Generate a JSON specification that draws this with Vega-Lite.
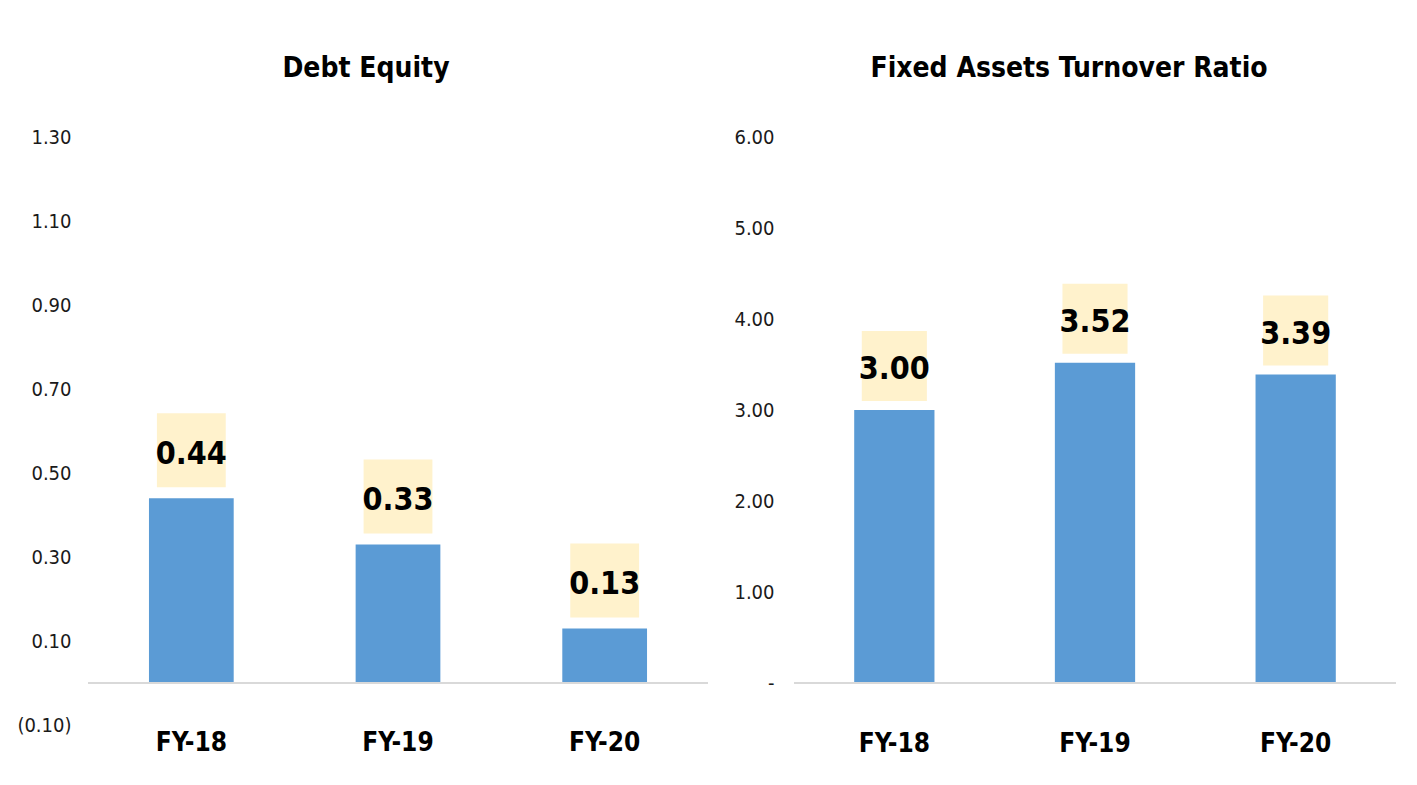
{
  "$schema": "https://vega.github.io/schema/vega-lite/v6.json",
  "background": "white",
  "padding": {"left": 16, "top": 55, "right": 20, "bottom": 10},
  "autosize": {"type": "pad"},
  "spacing": 24,
  "config": {
    "view": {"stroke": null},
    "font": "DejaVu Sans Condensed, Liberation Sans",
    "title": {"font": "DejaVu Sans Condensed, Liberation Sans", "fontSize": 28, "fontWeight": "bold", "color": "#000000", "offset": 44}
  },
  "datasets": {
    "de": [
      {"year": "FY-18", "value": 0.44},
      {"year": "FY-19", "value": 0.33},
      {"year": "FY-20", "value": 0.13}
    ],
    "fa": [
      {"year": "FY-18", "value": 3.00},
      {"year": "FY-19", "value": 3.52},
      {"year": "FY-20", "value": 3.39}
    ]
  },
  "hconcat": [
    {
      "width": 620,
      "height": 588,
      "title": {"text": "Debt Equity", "dx": -32},
      "data": {"name": "de"},
      "encoding": {
        "x": {"field": "year", "type": "nominal", "sort": null,
          "scale": {"paddingInner": 0.59, "paddingOuter": 0.295},
          "axis": {"title": null, "domain": false, "ticks": false, "labelAngle": 0, "labelPadding": 4,
            "labelFont": "DejaVu Sans Condensed, Liberation Sans", "labelFontSize": 26, "labelFontWeight": "bold", "labelColor": "#000000"}},
        "y": {"field": "value", "type": "quantitative",
          "scale": {"domain": [-0.1, 1.3], "nice": false, "zero": false},
          "axis": {"title": null, "domain": false, "ticks": false, "grid": false, "labelPadding": 17,
            "values": [-0.1, 0.1, 0.3, 0.5, 0.7, 0.9, 1.1, 1.3],
            "labelExpr": "datum.value < 0 ? '(' + format(-datum.value, '.2f') + ')' : format(datum.value, '.2f')",
            "labelFont": "DejaVu Sans Condensed, Liberation Sans", "labelFontSize": 20, "labelColor": "#1a1a1a"}}
      },
      "layer": [
        {"mark": {"type": "bar", "color": "#5b9bd5"}, "encoding": {"y2": {"datum": 0}}},
        {"mark": {"type": "rule", "color": "#d9d9d9", "strokeWidth": 2}, "encoding": {"x": null, "y": {"datum": 0}}},
        {"mark": {"type": "point", "shape": "M-0.93,-1L0.93,-1L0.93,1L-0.93,1Z", "size": 5476, "filled": true, "color": "#fff2cc", "opacity": 1, "yOffset": -48}},
        {"mark": {"type": "text", "font": "DejaVu Sans Condensed, Liberation Sans", "fontSize": 32, "fontWeight": "bold", "color": "#000000", "baseline": "middle", "yOffset": -44},
          "encoding": {"text": {"field": "value", "type": "quantitative", "format": ".2f"}}}
      ]
    },
    {
      "width": 602,
      "height": 546,
      "title": {"text": "Fixed Assets Turnover Ratio", "dx": -26},
      "data": {"name": "fa"},
      "encoding": {
        "x": {"field": "year", "type": "nominal", "sort": null,
          "scale": {"paddingInner": 0.6, "paddingOuter": 0.3},
          "axis": {"title": null, "domain": false, "ticks": false, "labelAngle": 0, "labelPadding": 47,
            "labelFont": "DejaVu Sans Condensed, Liberation Sans", "labelFontSize": 26, "labelFontWeight": "bold", "labelColor": "#000000"}},
        "y": {"field": "value", "type": "quantitative",
          "scale": {"domain": [0, 6], "nice": false},
          "axis": {"title": null, "domain": false, "ticks": false, "grid": false, "labelPadding": 20,
            "values": [0, 1, 2, 3, 4, 5, 6],
            "labelExpr": "datum.value == 0 ? '-' : format(datum.value, '.2f')",
            "labelFont": "DejaVu Sans Condensed, Liberation Sans", "labelFontSize": 20, "labelColor": "#1a1a1a"}}
      },
      "layer": [
        {"mark": {"type": "bar", "color": "#5b9bd5"}},
        {"mark": {"type": "rule", "color": "#d9d9d9", "strokeWidth": 2}, "encoding": {"x": null, "y": {"datum": 0}}},
        {"mark": {"type": "point", "shape": "M-0.93,-1L0.93,-1L0.93,1L-0.93,1Z", "size": 4900, "filled": true, "color": "#fff2cc", "opacity": 1, "yOffset": -44}},
        {"mark": {"type": "text", "font": "DejaVu Sans Condensed, Liberation Sans", "fontSize": 32, "fontWeight": "bold", "color": "#000000", "baseline": "middle", "yOffset": -41},
          "encoding": {"text": {"field": "value", "type": "quantitative", "format": ".2f"}}}
      ]
    }
  ]
}
